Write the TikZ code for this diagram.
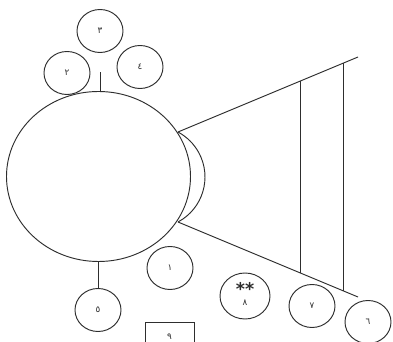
\documentclass[tikz,border=0pt]{standalone}
\usepackage{fontspec}
\usepackage{tikz}
\usetikzlibrary{calc,shapes.geometric}
\newfontfamily\arabicfont[Script=Arabic]{DejaVu Sans}
\TeXXeTstate=1
\definecolor{inkc}{HTML}{2E2E2E}
\newcommand{\ar}[1]{{\arabicfont\beginR #1\endR}}
\tikzset{
  ink/.style={draw=inkc, line width=0.8pt},
  member/.style={ink, ellipse, minimum width=1.38cm, minimum height=1.29cm, inner sep=0pt,
                 font=\arabicfont\fontsize{7.5}{8}\selectfont, text=inkc},
  stars/.style={font=\arabicfont\bfseries\fontsize{15}{15}\selectfont, text=inkc},
  tag/.style={ink, rectangle, minimum width=1.47cm, minimum height=0.9cm, inner sep=0pt,
              font=\arabicfont\fontsize{7.5}{8}\selectfont, text=inkc},
}
\def\tA{0.678}
\def\tB{0.917}
\begin{document}
\begin{tikzpicture}[x=0.03cm,y=0.03cm]
  \fill[white] (0,0) rectangle (393,342);
  \clip (0,0) rectangle (393,342);
  % head and face
  \draw[ink] (98.5,165.5) ellipse [x radius=92, y radius=85];
  \coordinate (top) at (100,250.5);
  \coordinate (bot) at (98,80.5);
  \coordinate (stem) at (100,270);
  \coordinate (ca) at (178,210);
  \coordinate (cb) at (178,120);
  \coordinate (ta) at (358,285);
  \coordinate (tb) at (358,45);
  \draw[ink] (cb) arc[start angle=-61.9, end angle=61.9, radius=51];
  \draw[ink] (ca) -- (ta);
  \draw[ink] (cb) -- (tb);
  \draw[ink] ($(ca)!\tA!(ta)$) -- ($(cb)!\tA!(tb)$);
  \draw[ink] ($(ca)!\tB!(ta)$) -- ($(cb)!\tB!(tb)$);
  % members
  \node[member] (m3) at (100,311) {\beginR ٣\endR};
  \node[member] (m2) at (67,269) {\beginR ٢\endR};
  \node[member] (m4) at (140,275) {\beginR ٤\endR};
  \node[member] (m5) at (98,32) {\beginR ٥\endR};
  \node[member] (m1) at (170,74) {\beginR ١\endR};
  \node[member, minimum width=1.5cm, minimum height=1.38cm] (m8) at (245,46) {};
  \node[stars] (st) at (245,53) {**};
  \node[font=\arabicfont\fontsize{7.5}{8}\selectfont, text=inkc] (l8) at (245,39) {\beginR ٨\endR};
  \node[member] (m7) at (312,36) {\beginR ٧\endR};
  \node[member] (m6) at (368,20) {\beginR ٦\endR};
  \node[tag] (b9) at (169.5,5) {\beginR ٩\endR};
  \draw[ink] (top) -- (stem);
  \draw[ink] (bot) -- (m5.north);
\end{tikzpicture}
\end{document}
